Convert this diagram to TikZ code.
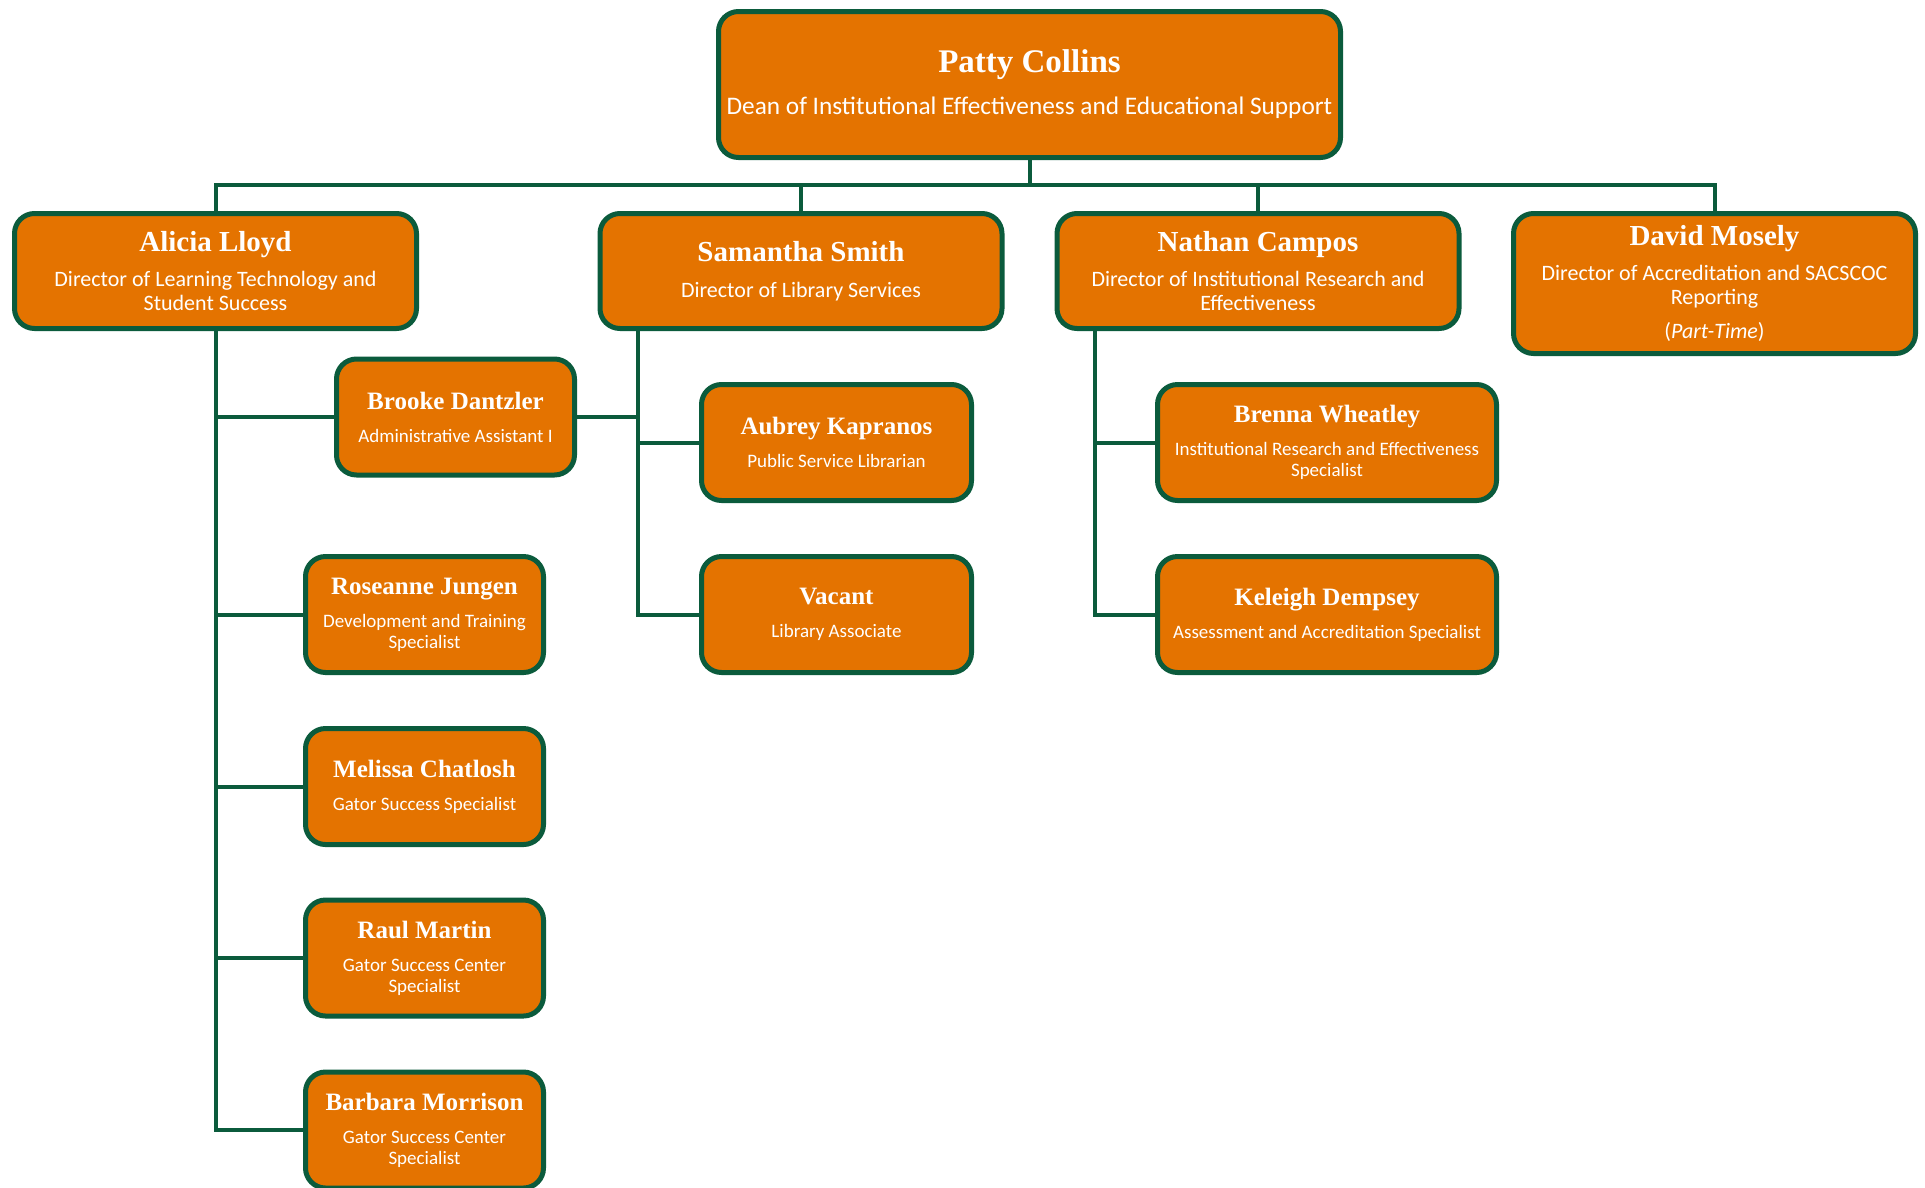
\documentclass[tikz,border=0pt]{standalone}
\usepackage{fontspec}
\setmainfont{Carlito}
\newfontfamily\namefamily{Liberation Serif}
\definecolor{gatororange}{HTML}{E47300}
\definecolor{gatorgreen}{HTML}{0B5B3C}
\newcommand{\deanfont}{\namefamily\bfseries\fontsize{33}{36}\selectfont}
\newcommand{\dirfont}{\namefamily\bfseries\fontsize{29}{32}\selectfont}
\newcommand{\stafffont}{\namefamily\bfseries\fontsize{25}{28}\selectfont}
\tikzset{
  card/.style={draw=gatorgreen, fill=gatororange, line width=5pt, rounded corners=20pt,
    text=white, align=center, inner sep=0pt},
  deancard/.style={card, minimum width=622pt, minimum height=146pt, font=\fontsize{25.3}{28}\selectfont},
  dircard/.style={card, minimum width=402pt, minimum height=115pt, font=\fontsize{22}{23.5}\selectfont},
  staffcard/.style={card, minimum height=116pt, font=\fontsize{19}{21}\selectfont},
  link/.style={draw=gatorgreen, line width=4pt},
}
\begin{document}
\begin{tikzpicture}[x=1pt, y=-1pt]
\useasboundingbox (0,0) rectangle (1925,1187);
% dean
\node[deancard] (patty) at (1029.5,84.5) {{\deanfont Patty Collins}\\[14pt]Dean of Institutional Effectiveness and Educational Support};
% directors
\node[dircard] (alicia) at (215.5,271) {{\dirfont Alicia Lloyd}\\[12pt]Director of Learning Technology and\\Student Success};
\node[dircard] (samantha) at (801,271) {{\dirfont Samantha Smith}\\[12pt]Director of Library Services};
\node[dircard] (nathan) at (1258,271) {{\dirfont Nathan Campos}\\[12pt]Director of Institutional Research and\\Effectiveness};
\node[dircard, minimum height=140pt] (david) at (1714.5,283.5) {{\dirfont David Mosely}\\[12pt]Director of Accreditation and SACSCOC\\Reporting\\[11pt](\textit{Part-Time})};
% staff
\node[staffcard, minimum width=238pt] (brooke) at (455.5,417) {{\stafffont Brooke Dantzler}\\[12pt]Administrative Assistant I};
\node[staffcard, minimum width=238pt] (roseanne) at (424.5,614.5) {{\stafffont Roseanne Jungen}\\[12pt]Development and Training\\Specialist};
\node[staffcard, minimum width=238pt] (melissa) at (424.5,786.5) {{\stafffont Melissa Chatlosh}\\[12pt]Gator Success Specialist};
\node[staffcard, minimum width=238pt] (raul) at (424.5,958) {{\stafffont Raul Martin}\\[12pt]Gator Success Center\\Specialist};
\node[staffcard, minimum width=238pt] (barbara) at (424.5,1130) {{\stafffont Barbara Morrison}\\[12pt]Gator Success Center\\Specialist};
\node[staffcard, minimum width=270pt] (aubrey) at (836.5,442.5) {{\stafffont Aubrey Kapranos}\\[12pt]Public Service Librarian};
\node[staffcard, minimum width=270pt] (vacant) at (836.5,614.5) {{\stafffont Vacant}\\[12pt]Library Associate};
\node[staffcard, minimum width=339pt] (brenna) at (1327,442.5) {{\stafffont Brenna Wheatley}\\[12pt]Institutional Research and Effectiveness\\Specialist};
\node[staffcard, minimum width=339pt] (keleigh) at (1327,614.5) {{\stafffont Keleigh Dempsey}\\[12pt]Assessment and Accreditation Specialist};
% connectors
\coordinate (bus) at (0,185);
\coordinate (samtrunk) at (638,331);
\coordinate (nattrunk) at (1095,331);
\draw[link] (patty.south) -- (patty.south |- bus);
\draw[link] (alicia.north) |- (david.north |- bus) -- (david.north);
\draw[link] (samantha.north) -- (samantha.north |- bus);
\draw[link] (nathan.north) -- (nathan.north |- bus);
\draw[link] (alicia.south) |- (barbara.west);
\draw[link] (alicia.south |- brooke.west) -- (brooke.west);
\draw[link] (alicia.south |- roseanne.west) -- (roseanne.west);
\draw[link] (alicia.south |- melissa.west) -- (melissa.west);
\draw[link] (alicia.south |- raul.west) -- (raul.west);
\draw[link] (samtrunk) |- (vacant.west);
\draw[link] (samtrunk |- aubrey.west) -- (aubrey.west);
\draw[link] (brooke.east) -- (brooke.east -| samtrunk);
\draw[link] (nattrunk) |- (keleigh.west);
\draw[link] (nattrunk |- brenna.west) -- (brenna.west);
\end{tikzpicture}
\end{document}
